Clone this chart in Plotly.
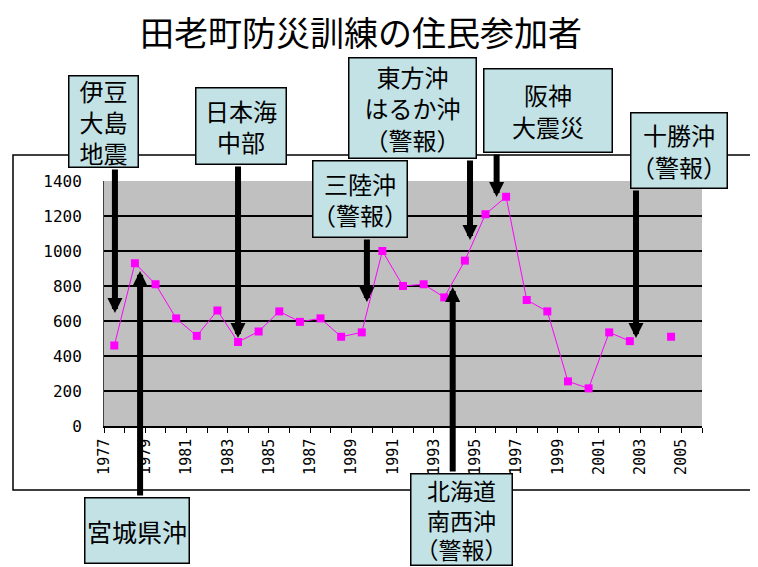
import plotly.graph_objects as go

# ---------------- data ----------------
years = list(range(1977, 2006))
participants = [460, 930, 810, 615, 515, 660, 480, 540, 655, 595,
                615, 510, 535, 1000, 800, 810, 735, 945, 1210, 1310,
                720, 655, 255, 215, 535, 485, None, 510, None]
y_ticks = [0, 200, 400, 600, 800, 1000, 1200, 1400]
title_text = "田老町防災訓練の住民参加者"

# events: label text, year pointed at, value pointed at
event_labels = ["伊豆<br>大島<br>地震", "宮城県沖", "日本海<br>中部", "三陸沖<br>（警報）",
                "北海道<br>南西沖<br>（警報）", "東方沖<br>はるか沖<br>（警報）",
                "阪神<br>大震災", "十勝沖<br>（警報）"]
event_years = [1977.03, 1978.25, 1983.0, 1989.25, 1993.41, 1994.25, 1995.54, 2002.3]
event_values = [646, 886, 503, 709, 794, 1063, 1309, 503]

# ---------------- layout geometry (pixels, window coordinates) ----------------
OFF = 8                      # page body margin
WIN_W, WIN_H = 758, 567
W, H = WIN_W - OFF, WIN_H - OFF
PL, PR, PT, PB = 104, 702, 181, 426      # plot area edges in window px
L, R, T, B = PL - OFF, W - (PR - OFF), PT - OFF, H - (PB - OFF)
PW, PH = W - L - R, H - T - B


def pxx(px):
    return (px - PL) / PW


def pyy(py):
    return (PB - py) / PH


# callout boxes (left, top, right, bottom) in window px, and arrow tail offset (px)
box_geom = [(68, 75, 139, 168), (84, 497, 190, 564), (195, 87, 287, 165),
            (312, 160, 408, 238), (410, 473, 513, 566), (348, 57, 477, 159),
            (483, 68, 613, 153), (630, 112, 728, 189)]
box_font = [24, 25, 24, 24, 23, 24, 24, 24]
arrow_ay = [-145, 226, -173, -64, 186, -81, -44, -149]
BOX_FILL = "#c3e2e6"

fig = go.Figure()
fig.add_trace(go.Scatter(
    x=years, y=participants, mode="lines+markers",
    line=dict(color="#ff00ff", width=1),
    marker=dict(symbol="square", size=8, color="#ff00ff"),
    connectgaps=False, showlegend=False,
))

annotations = []
# arrows
for yr, val, ay in zip(event_years, event_values, arrow_ay):
    annotations.append(dict(
        x=yr, y=val, xref="x", yref="y", text="", showarrow=True,
        arrowhead=2, arrowsize=0.5, arrowwidth=6, arrowcolor="black",
        ax=0, ay=ay, standoff=0,
    ))
# boxes
for lab, (l, t, r, b), fs in zip(event_labels, box_geom, box_font):
    annotations.append(dict(
        x=pxx(l), y=pyy(t), xref="paper", yref="paper",
        xanchor="left", yanchor="top", text=lab, showarrow=False,
        bgcolor=BOX_FILL, bordercolor="black", borderwidth=1.5, borderpad=0,
        width=r - l - 3, height=b - t - 3, align="center", valign="middle",
        font=dict(family="Noto Sans CJK JP", size=fs, color="black"),
    ))

shapes = [
    dict(type="rect", xref="paper", yref="paper",
         x0=pxx(13), x1=pxx(790), y0=pyy(490), y1=pyy(155),
         line=dict(color="black", width=1.5), layer="below"),
    # hide the grid line at the top edge of the plot area
    dict(type="line", xref="paper", yref="y", x0=0, x1=1,
         y0=y_ticks[-1], y1=y_ticks[-1],
         line=dict(color="#c0c0c0", width=2.5), layer="between"),
]

xt_vals = [y - 0.5 for y in years] + [years[-1] + 0.5]
xt_text = [str(y) if (y - years[0]) % 2 == 0 else "" for y in years] + [""]

fig.update_layout(
    width=W, height=H,
    margin=dict(l=L, r=R, t=T, b=B, pad=0, autoexpand=False),
    paper_bgcolor="white", plot_bgcolor="#c0c0c0",
    title=dict(text=title_text, xref="container", yref="container",
               x=(361 - OFF) / W, y=1 - (34 - OFF) / H,
               xanchor="center", yanchor="middle",
               font=dict(family="Noto Sans CJK JP", size=34, color="black")),
    annotations=annotations, shapes=shapes,
    xaxis=dict(range=[years[0] - 0.5, years[-1] + 0.5], tickmode="array",
               tickvals=xt_vals, ticktext=xt_text, tickangle=-90,
               ticks="outside", ticklen=5, tickcolor="black", tickwidth=1,
               showline=True, linecolor="black", linewidth=1.5,
               showgrid=False, zeroline=False,
               tickfont=dict(family="DejaVu Sans Mono", size=15, color="black")),
    yaxis=dict(range=[0, 1400], tickmode="array", tickvals=y_ticks,
               showgrid=True, gridcolor="black", gridwidth=1.5,
               showline=True, linecolor="#404040", linewidth=1,
               ticks="", ticklabelstandoff=18, zeroline=False,
               tickfont=dict(family="DejaVu Sans Mono", size=16, color="black")),
)

fig.write_html("out.html")
